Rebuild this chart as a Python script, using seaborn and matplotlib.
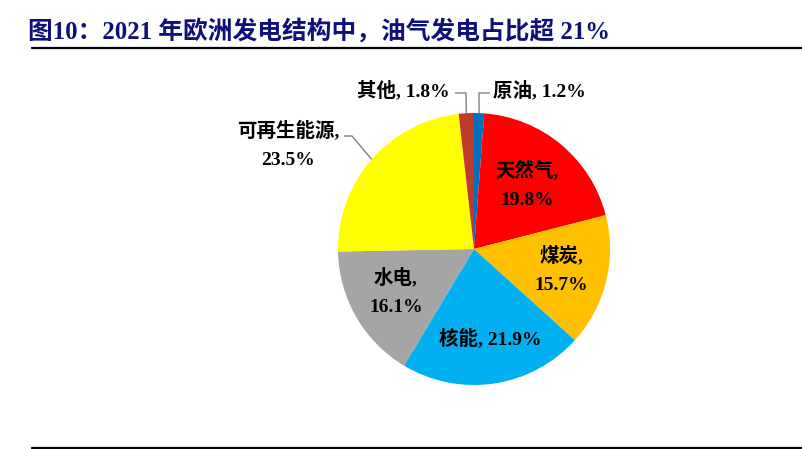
import matplotlib
matplotlib.use("Agg")
import numpy as np
import matplotlib.pyplot as plt
import seaborn as sns

# 2021 European electricity generation mix (%)
categories = ["原油", "天然气", "煤炭", "核能", "水电", "可再生能源", "其他"]
shares = [1.2, 19.8, 15.7, 21.9, 16.1, 23.5, 1.8]
colors = ["#0070C0", "#FF0000", "#FFC000", "#00B0F0", "#A5A5A5", "#FFFF00", "#C0392B"]
title = "图10：2021 年欧洲发电结构中，油气发电占比超 21%"

sns.set_theme(style="white")
plt.rcParams["font.family"] = ["Liberation Serif", "Noto Sans CJK SC", "DejaVu Sans"]

W, H = 802, 449
fig = plt.figure(figsize=(W / 100, H / 100), dpi=100)
fig.patch.set_facecolor("white")

# pie placement in pixels
cx, cy, r = 474, 249, 136
ax = fig.add_axes([(cx - r) / W, (H - cy - r) / H, 2 * r / W, 2 * r / H])
wedges, _ = ax.pie(shares, colors=colors, startangle=90, counterclock=False,
                   radius=1, wedgeprops=dict(linewidth=0))
ax.set_xlim(-1, 1)
ax.set_ylim(-1, 1)
ax.set_aspect("equal")
ax.axis("off")


def px(x, y):
    """pixel position -> pie data coordinates"""
    return (x - cx) / r, (cy - y) / r


def anchor(w):
    a = np.deg2rad((w.theta1 + w.theta2) / 2)
    return np.cos(a), np.sin(a)


lab = {c: f"{c}, {v:.1f}%" for c, v in zip(categories, shares)}
lab2 = {c: f"{c},\n{v:.1f}%" for c, v in zip(categories, shares)}
font = dict(fontsize=14, fontweight="bold", color="black")
ls = 1.9

# labels inside the wedges
inside = {"天然气": (527, 185), "煤炭": (561, 270), "水电": (396, 292)}
for c, (x, y) in inside.items():
    ax.text(*px(x, y), lab2[c], ha="center", va="center", linespacing=ls, **font)
ax.text(*px(490, 338), lab["核能"], ha="center", va="center", **font)

# outside labels with leader lines
lc = dict(color="#7F7F7F", lw=1.0, clip_on=False, solid_capstyle="butt")
idx = {c: i for i, c in enumerate(categories)}

a = anchor(wedges[idx["原油"]])
p1, p2 = px(479, 93), px(490, 93)
ax.plot([a[0], p1[0], p2[0]], [a[1], p1[1], p2[1]], **lc)
ax.text(*px(493, 90), lab["原油"], ha="left", va="center", **font)

a = anchor(wedges[idx["其他"]])
p1, p2 = px(466, 93), px(455, 93)
ax.plot([a[0], p1[0], p2[0]], [a[1], p1[1], p2[1]], **lc)
ax.text(*px(450, 90), lab["其他"], ha="right", va="center", **font)

a = anchor(wedges[idx["可再生能源"]])
p1, p2 = px(352, 136), px(344, 136)
ax.plot([a[0], p1[0], p2[0]], [a[1], p1[1], p2[1]], **lc)
ax.text(*px(288, 145), lab2["可再生能源"], ha="center", va="center",
        linespacing=ls, **font)

# title and rules
fig.text(28 / W, 1 - 31 / H, title, ha="left", va="center", fontsize=17.8,
         fontweight="bold", color="#10107A")
fig.add_artist(plt.Line2D([32 / W, 1], [1 - 48 / H] * 2, color="black", lw=1.6,
                          transform=fig.transFigure))
fig.add_artist(plt.Line2D([32 / W, 1], [1 - 447.5 / H] * 2, color="black", lw=1.6,
                          transform=fig.transFigure))

fig.savefig("out.png", dpi=100, facecolor="white")
